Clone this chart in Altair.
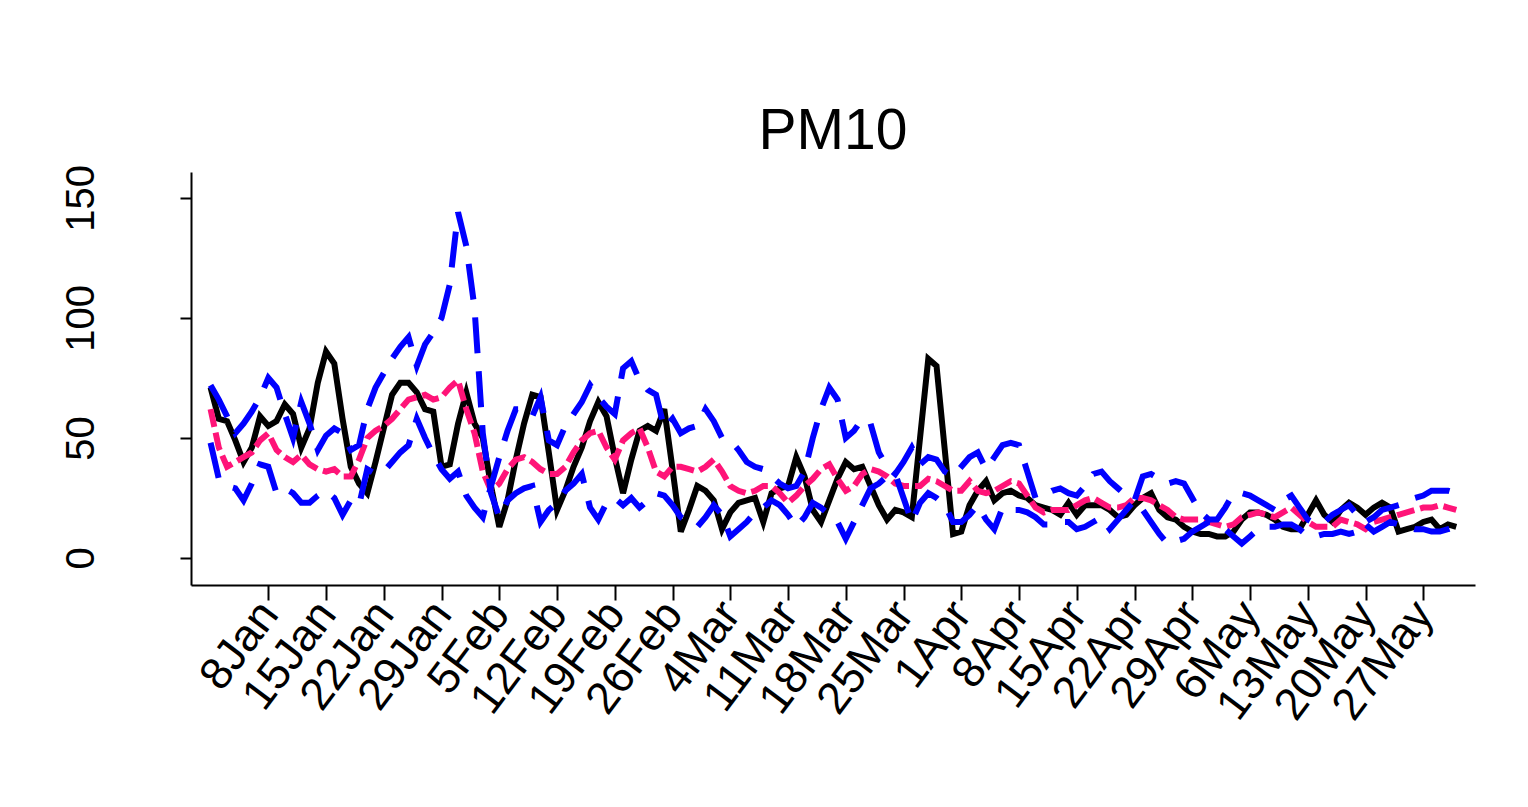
import altair as alt
import pandas as pd

START = "2020-01-01"

observed = [71, 58, 57, 49, 40, 46, 59, 55, 57, 64, 60, 46, 54, 73, 86, 81, 58, 38, 31, 27,
            40, 54, 68, 73, 73, 69, 62, 61, 38, 39, 56, 69, 56, 50, 30, 13, 24, 41, 56, 68,
            67, 44, 20, 28, 38, 46, 57, 65, 59, 42, 27, 41, 53, 55, 53, 62, 37, 11, 20, 30,
            28, 24, 12, 19, 23, 24, 25, 15, 27, 29, 30, 42, 34, 20, 15, 24, 33, 40, 37, 38,
            30, 22, 16, 20, 19, 17, 50, 83, 80, 45, 10, 11, 22, 28, 32, 24, 27, 28, 26, 25,
            22, 21, 20, 18, 23, 18, 22, 22, 22, 20, 17, 18, 22, 25, 27, 20, 17, 16, 13, 11,
            10, 10, 9, 9, 11, 16, 19, 19, 18, 16, 13, 12, 12, 18, 24, 18, 15, 20, 23, 21,
            18, 21, 23, 21, 11, 12, 13, 15, 16, 12, 14, 13]

predicted = [62, 46, 38, 40, 42, 44, 49, 52, 45, 42, 40, 43, 39, 37, 36, 37, 34, 34, 41, 50,
             53, 55, 58, 62, 66, 67, 68, 66, 67, 71, 74, 62, 52, 36, 28, 31, 37, 41, 42, 40,
             37, 35, 35, 38, 44, 49, 52, 53, 46, 41, 49, 52, 54, 46, 36, 34, 38, 38, 37, 36,
             38, 41, 36, 30, 28, 27, 28, 30, 30, 27, 23, 26, 30, 33, 37, 39, 33, 28, 30, 35,
             37, 36, 34, 31, 30, 30, 30, 33, 32, 30, 28, 28, 32, 28, 27, 28, 30, 32, 31, 26,
             21, 19, 20, 20, 20, 22, 24, 25, 23, 21, 21, 22, 25, 25, 24, 22, 20, 17, 16, 16,
             16, 15, 14, 13, 14, 17, 18, 19, 18, 17, 19, 21, 18, 15, 13, 13, 13, 16, 15, 14,
             12, 15, 16, 17, 18, 19, 20, 21, 21, 22, 21, 20]

band_a = [72, 66, 59, 52, 56, 61, 67, 75, 71, 60, 50, 65, 56, 45, 51, 54, 52, 45, 47, 62,
          71, 77, 83, 88, 92, 80, 89, 94, 100, 114, 144, 130, 104, 52, 27, 17, 24, 27, 29, 30,
          15, 20, 23, 28, 31, 35, 21, 16, 23, 25, 22, 25, 21, 24, 27, 26, 22, 17, 15, 13,
          17, 22, 18, 9, 12, 15, 19, 21, 24, 22, 18, 13, 17, 23, 21, 18, 15, 8, 15, 22,
          29, 31, 34, 35, 25, 15, 23, 27, 25, 22, 15, 15, 18, 22, 16, 12, 21, 20, 20, 19,
          17, 14, 14, 15, 15, 12, 13, 15, 17, 12, 16, 20, 24, 20, 15, 10, 6, 7, 8, 11,
          13, 15, 14, 12, 9, 6, 9, 12, 13, 13, 14, 14, 12, 9, 9, 10, 10, 11, 10, 11,
          15, 17, 20, 21, 22, 23, 25, 26, 28, 28, 28, 27]

band_b = [48, 33, 30, 29, 24, 31, 39, 38, 27, 29, 27, 23, 23, 26, 28, 25, 18, 24, 22, 37,
          35, 36, 40, 44, 47, 58, 50, 43, 37, 33, 36, 26, 21, 17, 30, 42, 53, 62, 62, 59,
          67, 49, 47, 55, 60, 65, 72, 67, 63, 60, 79, 82, 74, 70, 68, 54, 58, 52, 54, 55,
          62, 57, 50, 49, 45, 40, 38, 37, 34, 31, 29, 30, 36, 50, 62, 71, 66, 50, 53, 58,
          56, 44, 38, 35, 40, 46, 39, 42, 41, 36, 34, 38, 42, 44, 37, 42, 47, 48, 47, 36,
          25, 26, 28, 29, 27, 26, 30, 35, 36, 32, 29, 26, 24, 34, 35, 33, 31, 32, 31, 25,
          19, 16, 16, 21, 27, 27, 26, 24, 22, 20, 24, 26, 21, 16, 14, 15, 18, 20, 22, 18,
          14, 11, 13, 15, 14, 13, 12, 12, 11, 11, 12, 13]

tick_days = [7, 14, 21, 28, 35, 42, 49, 56, 63, 70, 77, 84, 91, 98, 105, 112, 119, 126, 133, 140, 147]
y_ticks = [0, 50, 100, 150]

dates = pd.date_range(START, periods=len(observed), freq="D")
day = (dates - pd.Timestamp(START)).days

def frame(values):
    return pd.DataFrame({"day": day, "value": values})

FONT = "Liberation Sans"

x_enc = alt.X("day:Q",
              scale=alt.Scale(domain=[-2.37, 153.27], nice=False, zero=False),
              axis=alt.Axis(values=tick_days, title=None, grid=False,
                            labelExpr="timeFormat(datetime(2020, 0, 1 + datum.value), '%-d%b')",
                            labelAngle=307, labelAlign="right", labelBaseline="middle",
                            labelPadding=6, tickSize=15, labelFontSize=45, labelFont=FONT,
                            labelColor="black", domainColor="black", tickColor="black",
                            domainWidth=2, tickWidth=2, labelOverlap=False, labelFlush=False))
y_enc = alt.Y("value:Q",
              scale=alt.Scale(domain=[-11.25, 160.8], nice=False, zero=False),
              axis=alt.Axis(values=y_ticks, title=None, grid=False,
                            labelAngle=270, labelAlign="center", labelBaseline="alphabetic",
                            labelPadding=87, tickSize=11, labelFontSize=40, labelFont=FONT,
                            labelColor="black", domainColor="black", tickColor="black",
                            domainWidth=2, tickWidth=2, labelOverlap=False, labelFlush=False))

obs_line = alt.Chart(frame(observed)).mark_line(color="black", strokeWidth=6).encode(x=x_enc, y=y_enc)
pred_line = alt.Chart(frame(predicted)).mark_line(color="#ff1478", strokeWidth=6,
                                                   strokeDash=[18, 6]).encode(x="day:Q", y="value:Q")
a_line = alt.Chart(frame(band_a)).mark_line(color="#0000ff", strokeWidth=6,
                                            strokeDash=[36, 18]).encode(x="day:Q", y="value:Q")
b_line = alt.Chart(frame(band_b)).mark_line(color="#0000ff", strokeWidth=6,
                                            strokeDash=[36, 18]).encode(x="day:Q", y="value:Q")

chart = alt.layer(obs_line, pred_line, a_line, b_line).properties(
    width=1284, height=413,
    title=alt.TitleParams("PM10", fontSize=57, font=FONT,
                          fontWeight="normal", anchor="middle", frame="group",
                          baseline="alphabetic", offset=14, dy=55, color="black"),
    autosize=alt.AutoSizeParams(type="none"),
    padding={"left": 183, "top": 164, "right": 30, "bottom": 150},
    background="white",
).configure_view(stroke=None)

chart.save("out.html", embed_options={"renderer": "svg", "actions": False})
